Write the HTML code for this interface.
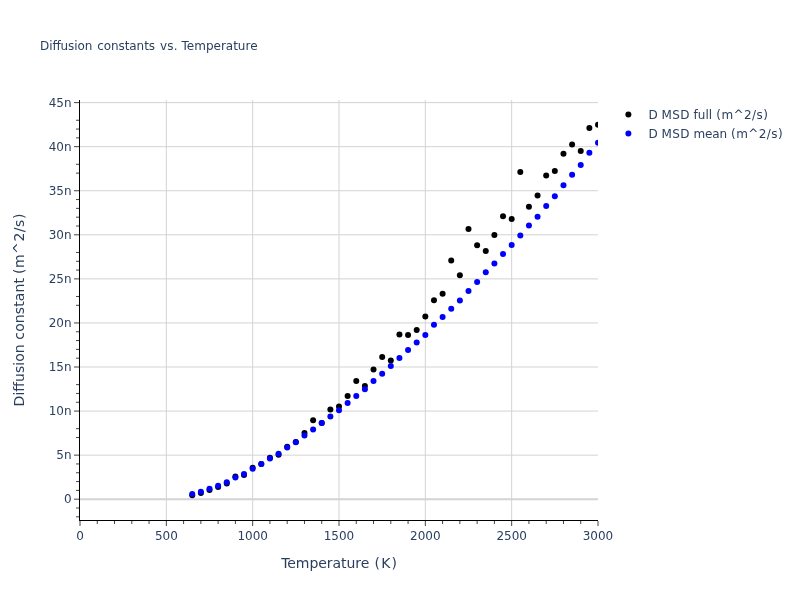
<!DOCTYPE html>
<html><head><meta charset="utf-8"><title>Diffusion constants vs. Temperature</title>
<style>
html,body{margin:0;padding:0;background:#fff;}
body{width:800px;height:600px;overflow:hidden;}
svg{display:block;font-family:"DejaVu Sans","Liberation Sans",sans-serif;fill:#2a3f5f;}
.g{stroke:#d3d3d3;stroke-width:1;}
.z{stroke:#d3d3d3;stroke-width:2;}
.ax{stroke:#000;stroke-width:1;}
.tk{stroke:#444;stroke-width:1;}
.tky{stroke:#444;stroke-width:1;}
.mt{stroke:#444;stroke-width:1;}
.t12{font-size:12px;}
.t14{font-size:14px;}
text{white-space:pre;}
</style></head><body>
<svg width="800" height="600" viewBox="0 0 800 600">
<rect x="0" y="0" width="800" height="600" fill="#fff"/>
<defs><clipPath id="pc"><rect x="80" y="100" width="518" height="420"/></clipPath></defs>

<line class="g" x1="166.33" x2="166.33" y1="100" y2="520"/>
<line class="g" x1="252.67" x2="252.67" y1="100" y2="520"/>
<line class="g" x1="339.00" x2="339.00" y1="100" y2="520"/>
<line class="g" x1="425.33" x2="425.33" y1="100" y2="520"/>
<line class="g" x1="511.67" x2="511.67" y1="100" y2="520"/>
<line class="g" x1="80" x2="598" y1="455.13" y2="455.13"/>
<line class="g" x1="80" x2="598" y1="411.07" y2="411.07"/>
<line class="g" x1="80" x2="598" y1="367.00" y2="367.00"/>
<line class="g" x1="80" x2="598" y1="322.94" y2="322.94"/>
<line class="g" x1="80" x2="598" y1="278.88" y2="278.88"/>
<line class="g" x1="80" x2="598" y1="234.81" y2="234.81"/>
<line class="g" x1="80" x2="598" y1="190.74" y2="190.74"/>
<line class="g" x1="80" x2="598" y1="146.68" y2="146.68"/>
<line class="g" x1="80" x2="598" y1="102.61" y2="102.61"/>
<line class="z" x1="80" x2="598" y1="499.20" y2="499.20"/>
<g clip-path="url(#pc)">
<circle cx="192.23" cy="495.30" r="3" fill="#000"/>
<circle cx="200.87" cy="493.00" r="3" fill="#000"/>
<circle cx="209.50" cy="490.10" r="3" fill="#000"/>
<circle cx="218.13" cy="487.10" r="3" fill="#000"/>
<circle cx="226.77" cy="483.50" r="3" fill="#000"/>
<circle cx="235.40" cy="476.50" r="3" fill="#000"/>
<circle cx="244.03" cy="475.00" r="3" fill="#000"/>
<circle cx="252.67" cy="467.70" r="3" fill="#000"/>
<circle cx="261.30" cy="463.90" r="3" fill="#000"/>
<circle cx="269.93" cy="457.70" r="3" fill="#000"/>
<circle cx="278.57" cy="454.80" r="3" fill="#000"/>
<circle cx="287.20" cy="446.70" r="3" fill="#000"/>
<circle cx="295.83" cy="442.10" r="3" fill="#000"/>
<circle cx="304.47" cy="433.00" r="3" fill="#000"/>
<circle cx="313.10" cy="420.25" r="3" fill="#000"/>
<circle cx="321.73" cy="422.90" r="3" fill="#000"/>
<circle cx="330.37" cy="409.50" r="3" fill="#000"/>
<circle cx="339.00" cy="406.50" r="3" fill="#000"/>
<circle cx="347.63" cy="395.90" r="3" fill="#000"/>
<circle cx="356.27" cy="380.90" r="3" fill="#000"/>
<circle cx="364.90" cy="385.90" r="3" fill="#000"/>
<circle cx="373.53" cy="369.40" r="3" fill="#000"/>
<circle cx="382.17" cy="357.10" r="3" fill="#000"/>
<circle cx="390.80" cy="360.60" r="3" fill="#000"/>
<circle cx="399.43" cy="334.40" r="3" fill="#000"/>
<circle cx="408.07" cy="335.00" r="3" fill="#000"/>
<circle cx="416.70" cy="329.90" r="3" fill="#000"/>
<circle cx="425.33" cy="316.60" r="3" fill="#000"/>
<circle cx="433.97" cy="300.25" r="3" fill="#000"/>
<circle cx="442.60" cy="293.75" r="3" fill="#000"/>
<circle cx="451.23" cy="260.50" r="3" fill="#000"/>
<circle cx="459.87" cy="275.30" r="3" fill="#000"/>
<circle cx="468.50" cy="229.00" r="3" fill="#000"/>
<circle cx="477.13" cy="245.25" r="3" fill="#000"/>
<circle cx="485.77" cy="251.00" r="3" fill="#000"/>
<circle cx="494.40" cy="235.00" r="3" fill="#000"/>
<circle cx="503.03" cy="216.25" r="3" fill="#000"/>
<circle cx="511.67" cy="219.00" r="3" fill="#000"/>
<circle cx="520.30" cy="172.00" r="3" fill="#000"/>
<circle cx="528.93" cy="206.70" r="3" fill="#000"/>
<circle cx="537.57" cy="195.60" r="3" fill="#000"/>
<circle cx="546.20" cy="175.50" r="3" fill="#000"/>
<circle cx="554.83" cy="170.90" r="3" fill="#000"/>
<circle cx="563.47" cy="153.75" r="3" fill="#000"/>
<circle cx="572.10" cy="144.60" r="3" fill="#000"/>
<circle cx="580.73" cy="151.00" r="3" fill="#000"/>
<circle cx="589.37" cy="128.00" r="3" fill="#000"/>
<circle cx="598.00" cy="124.85" r="3" fill="#000"/>
<circle cx="192.23" cy="494.00" r="3" fill="#00f"/>
<circle cx="200.87" cy="491.70" r="3" fill="#00f"/>
<circle cx="209.50" cy="488.85" r="3" fill="#00f"/>
<circle cx="218.13" cy="485.85" r="3" fill="#00f"/>
<circle cx="226.77" cy="482.25" r="3" fill="#00f"/>
<circle cx="235.40" cy="477.50" r="3" fill="#00f"/>
<circle cx="244.03" cy="474.00" r="3" fill="#00f"/>
<circle cx="252.67" cy="468.85" r="3" fill="#00f"/>
<circle cx="261.30" cy="463.90" r="3" fill="#00f"/>
<circle cx="269.93" cy="458.40" r="3" fill="#00f"/>
<circle cx="278.57" cy="453.80" r="3" fill="#00f"/>
<circle cx="287.20" cy="447.50" r="3" fill="#00f"/>
<circle cx="295.83" cy="442.30" r="3" fill="#00f"/>
<circle cx="304.47" cy="435.40" r="3" fill="#00f"/>
<circle cx="313.10" cy="429.40" r="3" fill="#00f"/>
<circle cx="321.73" cy="422.90" r="3" fill="#00f"/>
<circle cx="330.37" cy="416.50" r="3" fill="#00f"/>
<circle cx="339.00" cy="410.20" r="3" fill="#00f"/>
<circle cx="347.63" cy="402.90" r="3" fill="#00f"/>
<circle cx="356.27" cy="396.00" r="3" fill="#00f"/>
<circle cx="364.90" cy="389.20" r="3" fill="#00f"/>
<circle cx="373.53" cy="380.90" r="3" fill="#00f"/>
<circle cx="382.17" cy="373.75" r="3" fill="#00f"/>
<circle cx="390.80" cy="366.00" r="3" fill="#00f"/>
<circle cx="399.43" cy="358.00" r="3" fill="#00f"/>
<circle cx="408.07" cy="350.10" r="3" fill="#00f"/>
<circle cx="416.70" cy="342.60" r="3" fill="#00f"/>
<circle cx="425.33" cy="334.90" r="3" fill="#00f"/>
<circle cx="433.97" cy="324.80" r="3" fill="#00f"/>
<circle cx="442.60" cy="316.90" r="3" fill="#00f"/>
<circle cx="451.23" cy="308.75" r="3" fill="#00f"/>
<circle cx="459.87" cy="300.60" r="3" fill="#00f"/>
<circle cx="468.50" cy="290.90" r="3" fill="#00f"/>
<circle cx="477.13" cy="281.90" r="3" fill="#00f"/>
<circle cx="485.77" cy="272.20" r="3" fill="#00f"/>
<circle cx="494.40" cy="263.50" r="3" fill="#00f"/>
<circle cx="503.03" cy="254.10" r="3" fill="#00f"/>
<circle cx="511.67" cy="245.00" r="3" fill="#00f"/>
<circle cx="520.30" cy="235.60" r="3" fill="#00f"/>
<circle cx="528.93" cy="225.50" r="3" fill="#00f"/>
<circle cx="537.57" cy="216.70" r="3" fill="#00f"/>
<circle cx="546.20" cy="205.90" r="3" fill="#00f"/>
<circle cx="554.83" cy="196.25" r="3" fill="#00f"/>
<circle cx="563.47" cy="185.25" r="3" fill="#00f"/>
<circle cx="572.10" cy="174.70" r="3" fill="#00f"/>
<circle cx="580.73" cy="164.90" r="3" fill="#00f"/>
<circle cx="589.37" cy="152.75" r="3" fill="#00f"/>
<circle cx="598.00" cy="142.75" r="3" fill="#00f"/>
</g>
<line class="tk" x1="80.00" x2="80.00" y1="521" y2="526"/>
<line class="mt" x1="97.27" x2="97.27" y1="521" y2="524"/>
<line class="mt" x1="114.53" x2="114.53" y1="521" y2="524"/>
<line class="mt" x1="131.80" x2="131.80" y1="521" y2="524"/>
<line class="mt" x1="149.07" x2="149.07" y1="521" y2="524"/>
<line class="tk" x1="166.33" x2="166.33" y1="521" y2="526"/>
<line class="mt" x1="183.60" x2="183.60" y1="521" y2="524"/>
<line class="mt" x1="200.87" x2="200.87" y1="521" y2="524"/>
<line class="mt" x1="218.13" x2="218.13" y1="521" y2="524"/>
<line class="mt" x1="235.40" x2="235.40" y1="521" y2="524"/>
<line class="tk" x1="252.67" x2="252.67" y1="521" y2="526"/>
<line class="mt" x1="269.93" x2="269.93" y1="521" y2="524"/>
<line class="mt" x1="287.20" x2="287.20" y1="521" y2="524"/>
<line class="mt" x1="304.47" x2="304.47" y1="521" y2="524"/>
<line class="mt" x1="321.73" x2="321.73" y1="521" y2="524"/>
<line class="tk" x1="339.00" x2="339.00" y1="521" y2="526"/>
<line class="mt" x1="356.27" x2="356.27" y1="521" y2="524"/>
<line class="mt" x1="373.53" x2="373.53" y1="521" y2="524"/>
<line class="mt" x1="390.80" x2="390.80" y1="521" y2="524"/>
<line class="mt" x1="408.07" x2="408.07" y1="521" y2="524"/>
<line class="tk" x1="425.33" x2="425.33" y1="521" y2="526"/>
<line class="mt" x1="442.60" x2="442.60" y1="521" y2="524"/>
<line class="mt" x1="459.87" x2="459.87" y1="521" y2="524"/>
<line class="mt" x1="477.13" x2="477.13" y1="521" y2="524"/>
<line class="mt" x1="494.40" x2="494.40" y1="521" y2="524"/>
<line class="tk" x1="511.67" x2="511.67" y1="521" y2="526"/>
<line class="mt" x1="528.93" x2="528.93" y1="521" y2="524"/>
<line class="mt" x1="546.20" x2="546.20" y1="521" y2="524"/>
<line class="mt" x1="563.47" x2="563.47" y1="521" y2="524"/>
<line class="mt" x1="580.73" x2="580.73" y1="521" y2="524"/>
<line class="tk" x1="598.00" x2="598.00" y1="521" y2="526"/>
<line class="tky" x1="74" x2="79" y1="499.20" y2="499.20"/>
<line class="tky" x1="74" x2="79" y1="455.13" y2="455.13"/>
<line class="tky" x1="74" x2="79" y1="411.07" y2="411.07"/>
<line class="tky" x1="74" x2="79" y1="367.00" y2="367.00"/>
<line class="tky" x1="74" x2="79" y1="322.94" y2="322.94"/>
<line class="tky" x1="74" x2="79" y1="278.88" y2="278.88"/>
<line class="tky" x1="74" x2="79" y1="234.81" y2="234.81"/>
<line class="tky" x1="74" x2="79" y1="190.74" y2="190.74"/>
<line class="tky" x1="74" x2="79" y1="146.68" y2="146.68"/>
<line class="tky" x1="74" x2="79" y1="102.61" y2="102.61"/>
<line class="mt" x1="76" x2="79" y1="120.24" y2="120.24"/>
<line class="mt" x1="76" x2="79" y1="129.05" y2="129.05"/>
<line class="mt" x1="76" x2="79" y1="137.87" y2="137.87"/>
<line class="mt" x1="76" x2="79" y1="164.31" y2="164.31"/>
<line class="mt" x1="76" x2="79" y1="173.12" y2="173.12"/>
<line class="mt" x1="76" x2="79" y1="199.56" y2="199.56"/>
<line class="mt" x1="76" x2="79" y1="208.37" y2="208.37"/>
<line class="mt" x1="76" x2="79" y1="217.18" y2="217.18"/>
<line class="mt" x1="76" x2="79" y1="226.00" y2="226.00"/>
<line class="mt" x1="76" x2="79" y1="252.44" y2="252.44"/>
<line class="mt" x1="76" x2="79" y1="261.25" y2="261.25"/>
<line class="mt" x1="76" x2="79" y1="270.06" y2="270.06"/>
<line class="mt" x1="76" x2="79" y1="296.50" y2="296.50"/>
<line class="mt" x1="76" x2="79" y1="305.31" y2="305.31"/>
<line class="mt" x1="76" x2="79" y1="331.75" y2="331.75"/>
<line class="mt" x1="76" x2="79" y1="340.57" y2="340.57"/>
<line class="mt" x1="76" x2="79" y1="349.38" y2="349.38"/>
<line class="mt" x1="76" x2="79" y1="358.19" y2="358.19"/>
<line class="mt" x1="76" x2="79" y1="384.63" y2="384.63"/>
<line class="mt" x1="76" x2="79" y1="393.44" y2="393.44"/>
<line class="mt" x1="76" x2="79" y1="402.26" y2="402.26"/>
<line class="mt" x1="76" x2="79" y1="428.70" y2="428.70"/>
<line class="mt" x1="76" x2="79" y1="437.51" y2="437.51"/>
<line class="mt" x1="76" x2="79" y1="463.95" y2="463.95"/>
<line class="mt" x1="76" x2="79" y1="472.76" y2="472.76"/>
<line class="mt" x1="76" x2="79" y1="481.57" y2="481.57"/>
<line class="mt" x1="76" x2="79" y1="490.39" y2="490.39"/>
<line class="mt" x1="76" x2="79" y1="508.01" y2="508.01"/>
<line class="mt" x1="76" x2="79" y1="516.83" y2="516.83"/>
<line class="ax" x1="79.5" x2="79.5" y1="100" y2="521"/>
<line class="ax" x1="79" x2="598" y1="520.5" y2="520.5"/>
<text class="t12" text-anchor="middle" x="80.00" y="540">0</text>
<text class="t12" text-anchor="middle" x="166.33" y="540">500</text>
<text class="t12" text-anchor="middle" x="252.67" y="540">1000</text>
<text class="t12" text-anchor="middle" x="339.00" y="540">1500</text>
<text class="t12" text-anchor="middle" x="425.33" y="540">2000</text>
<text class="t12" text-anchor="middle" x="511.67" y="540">2500</text>
<text class="t12" text-anchor="middle" x="598.00" y="540">3000</text>
<text class="t12" text-anchor="end" x="71.6" y="503.40">0</text>
<text class="t12" text-anchor="end" x="71.6" y="459.33">5n</text>
<text class="t12" text-anchor="end" x="71.6" y="415.27">10n</text>
<text class="t12" text-anchor="end" x="71.6" y="371.20">15n</text>
<text class="t12" text-anchor="end" x="71.6" y="327.14">20n</text>
<text class="t12" text-anchor="end" x="71.6" y="283.07">25n</text>
<text class="t12" text-anchor="end" x="71.6" y="239.01">30n</text>
<text class="t12" text-anchor="end" x="71.6" y="194.94">35n</text>
<text class="t12" text-anchor="end" x="71.6" y="150.88">40n</text>
<text class="t12" text-anchor="end" x="71.6" y="106.81">45n</text>
<text class="t12" x="40.00" y="50" textLength="52.38" lengthAdjust="spacing">Diffusion</text>
<text class="t12" x="97.30" y="50" textLength="57.72" lengthAdjust="spacing">constants</text>
<text class="t12" x="159.93" y="50" textLength="17.77" lengthAdjust="spacing">vs.</text>
<text class="t12" x="181.52" y="50">Temperature</text>
<text class="t14" x="281.18" y="568" textLength="88.19" lengthAdjust="spacing">Temperature</text>
<text class="t14" x="374.61" y="568" textLength="22.31" lengthAdjust="spacing">(K)</text>
<g transform="translate(24.2,404.69) rotate(-90)">
<text class="t14" x="-1.70" y="0" textLength="62.11" lengthAdjust="spacing">Diffusion</text>
<text class="t14" x="65.05" y="0" textLength="61.58" lengthAdjust="spacing">constant</text>
<text class="t14" x="130.66" y="0" textLength="60.42" lengthAdjust="spacing">(m^2/s)</text>
</g>
<circle cx="628.36" cy="114.4" r="3" fill="#000"/>
<circle cx="628.36" cy="133.5" r="3" fill="#00f"/>
<text class="t12" x="648.40" y="118.7">D</text>
<text class="t12" x="661.56" y="118.7" textLength="28.02" lengthAdjust="spacing">MSD</text>
<text class="t12" x="693.49" y="118.7" textLength="18.70" lengthAdjust="spacing">full</text>
<text class="t12" x="716.31" y="118.7" textLength="51.65" lengthAdjust="spacing">(m^2/s)</text>
<text class="t12" x="648.40" y="137.7">D</text>
<text class="t12" x="661.56" y="137.7" textLength="28.02" lengthAdjust="spacing">MSD</text>
<text class="t12" x="693.39" y="137.7" textLength="33.63" lengthAdjust="spacing">mean</text>
<text class="t12" x="731.04" y="137.7" textLength="51.65" lengthAdjust="spacing">(m^2/s)</text>
</svg></body></html>
